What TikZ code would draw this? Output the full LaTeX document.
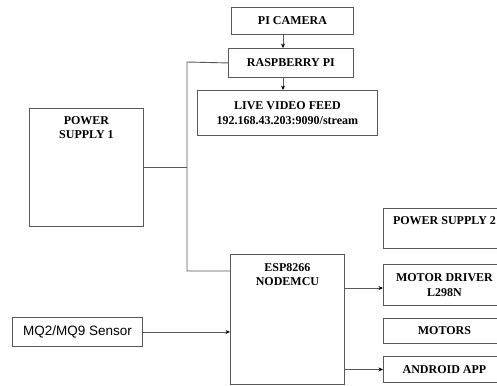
\documentclass[tikz,border=0pt]{standalone}
\usepackage{fontspec}
\setmainfont{Liberation Serif}
\newfontfamily\sensorfont{Liberation Sans}
\usetikzlibrary{arrows.meta}
\tikzset{
  box/.style={draw=black!65, line width=0.9pt, fill=white, inner sep=0pt, anchor=north west,
    font=\fontsize{12}{13.5}\selectfont\bfseries, align=center},
  wire/.style={draw=black!65, line width=0.9pt},
  arr/.style={wire, -{Stealth[length=4.5pt,width=4pt,color=black]}},
  toplabel/.style={anchor=north, inner sep=0pt, font=\fontsize{12}{14}\selectfont\bfseries, align=center}
}
\begin{document}
\begin{tikzpicture}[x=1pt,y=-1pt]
\clip (0,0) rectangle (497,385);
\fill[white] (0,0) rectangle (497,385);
% top column
\node[box, minimum width=122pt, minimum height=27pt] (cam) at (231,7) {PI CAMERA};
\node[box, minimum width=125pt, minimum height=29pt] (rpi) at (228,48) {RASPBERRY PI};
\node[box, minimum width=180pt, minimum height=45pt] (live) at (197,90) {LIVE VIDEO FEED\\[1pt]192.168.43.203:9090/stream};
% power supply 1
\node[box, minimum width=114pt, minimum height=118pt,
  label={[toplabel, yshift=-8pt]north:POWER\\SUPPLY 1}] (ps1) at (29,108) {};
% esp
\node[box, minimum width=114pt, minimum height=130pt,
  label={[toplabel, yshift=-9pt]north:ESP8266\\NODEMCU}] (esp) at (230,254) {};
% sensor
\node[box, minimum width=130pt, minimum height=29pt, font=\sensorfont\fontsize{13.5}{15}\selectfont] (mq) at (12,317) {MQ2/MQ9 Sensor};
% right column
\node[box, minimum width=122pt, minimum height=40pt,
  label={[toplabel, yshift=-8pt]north:POWER SUPPLY 2}] (ps2) at (383,208) {};
\node[box, minimum width=122pt, minimum height=41pt] (md) at (383,264) {MOTOR DRIVER\\[1pt]L298N};
\node[box, minimum width=122pt, minimum height=25pt] (mot) at (383,318) {MOTORS};
\node[box, minimum width=122pt, minimum height=26pt] (app) at (383,356) {ANDROID APP};
% connectors
\coordinate (jt) at (187,62);
\coordinate (jb) at (187,271);
\draw[arr] (cam.south -| 283,0) -- (rpi.north -| 283,0);
\draw[arr] (rpi.south -| 283,0) -- (live.north -| 283,0);
\draw[wire] (rpi.west) -- (jt) -- (jb) -- (jb -| esp.west);
\draw[wire] (ps1.east) -- (ps1.east -| jb);
\draw[arr] (mq.east) -- (mq.east -| esp.west);
\draw[arr] (esp.east |- 0,288) -- (md.west |- 0,288);
\draw[arr] (esp.east |- app.west) -- (app.west);
\end{tikzpicture}
\end{document}
